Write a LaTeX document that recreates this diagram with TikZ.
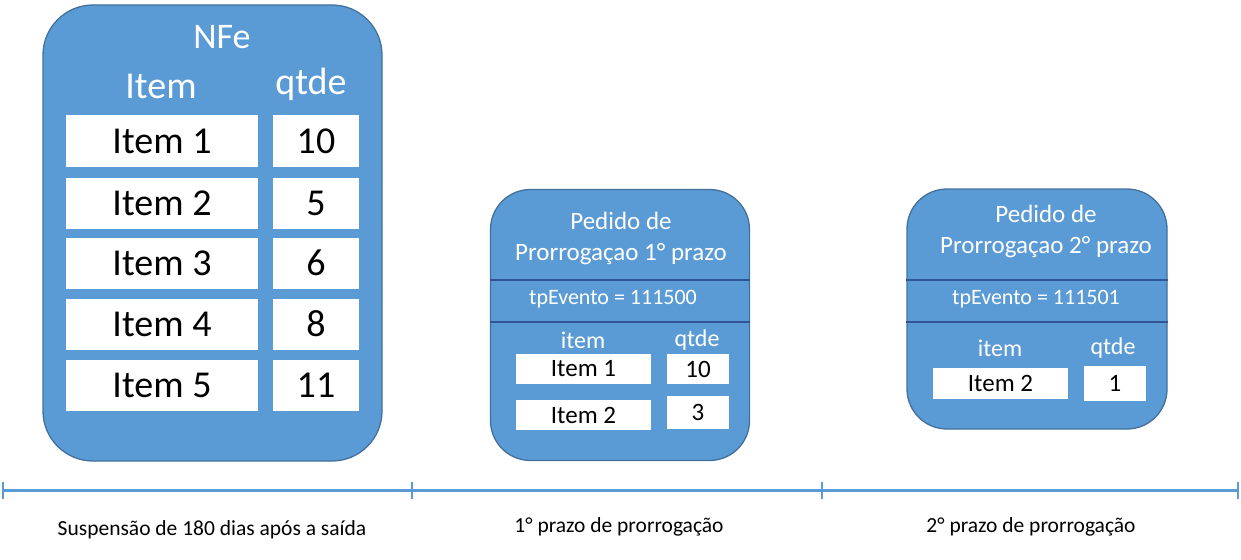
\documentclass[tikz,border=0pt]{standalone}
\usepackage{fontspec}
\setmainfont{Carlito}
\usetikzlibrary{positioning}
\definecolor{boxblue}{HTML}{5B9BD5}
\definecolor{boxedge}{HTML}{41719C}
\definecolor{sepblue}{HTML}{2F5597}

\begin{document}
\begin{tikzpicture}[x=1pt,y=-1pt,
    bloco/.style={draw=boxedge,line width=1.3pt,fill=boxblue,rounded corners=#1,inner sep=0pt},
    celula/.style={fill=white,inner sep=0pt,text=black},
    titulo/.style={text=white,inner sep=0pt},
    sepline/.style={draw=sepblue,line width=2.4pt},
    eixo/.style={draw=boxblue,line width=3pt},
    legenda/.style={text=black,inner sep=0pt,font=\fontsize{21.5}{24}\selectfont}]
    \useasboundingbox (0,0) rectangle (1241,559);
    % NFe
    \node[bloco=50pt,minimum width=339pt,minimum height=456pt] (nfe) at (212.5,233) {};
    \node[titulo,font=\fontsize{36}{38}\selectfont] (nfetit) at (222,37) {NFe};
    \node[titulo,font=\fontsize{38}{40}\selectfont] (nfeitem) at (161,86) {Item};
    \node[titulo,font=\fontsize{38}{40}\selectfont] (nfeqtde) at (311,84) {qtde};
    \foreach \i/\y/\q in {1/141/10,2/203/5,3/263/6,4/324/8,5/385/11}{
        \node[celula,minimum width=192pt,minimum height=51pt,font=\fontsize{38}{40}\selectfont] (nitem\i) at (162,\y) {Item \i};
        \node[celula,minimum width=86pt,minimum height=51pt,font=\fontsize{38}{40}\selectfont] (nqtde\i) at (316,\y) {\q};
    }
    % 1o pedido
    \node[bloco=40pt,minimum width=259pt,minimum height=271pt] (ped1) at (620,325) {};
    \node[titulo,font=\fontsize{25}{31}\selectfont,align=center] (ped1tit) at (621,238) {Pedido de\\Prorrogaçao 1° prazo};
    \draw[sepline] (ped1.west |- 0,280) -- (ped1.east |- 0,280);
    \draw[sepline] (ped1.west |- 0,322) -- (ped1.east |- 0,322);
    \node[titulo,font=\fontsize{22}{24}\selectfont] (ped1ev) at (613,299) {tpEvento = 111500};
    \node[titulo,font=\fontsize{24}{26}\selectfont] (ped1item) at (583,340) {item};
    \node[titulo,font=\fontsize{24}{26}\selectfont] (ped1qtde) at (697,340) {qtde};
    \node[celula,minimum width=135pt,minimum height=30pt,font=\fontsize{25}{27}\selectfont] (p1item1) at (583.5,369) {Item 1};
    \node[celula,minimum width=62pt,minimum height=30pt,font=\fontsize{25}{27}\selectfont] (p1qtde1) at (698,369) {10};
    \node[celula,minimum width=135pt,minimum height=30pt,font=\fontsize{25}{27}\selectfont] (p1item2) at (583.5,415) {Item 2};
    \node[celula,minimum width=62pt,minimum height=33pt,font=\fontsize{25}{27}\selectfont] (p1qtde2) at (698,412.5) {3};
    % 2o pedido
    \node[bloco=40pt,minimum width=260pt,minimum height=240pt] (ped2) at (1037,309) {};
    \node[titulo,font=\fontsize{25}{31}\selectfont,align=center] (ped2tit) at (1046,231) {Pedido de\\Prorrogaçao 2° prazo};
    \draw[sepline] (ped2.west |- 0,280) -- (ped2.east |- 0,280);
    \draw[sepline] (ped2.west |- 0,322) -- (ped2.east |- 0,322);
    \node[titulo,font=\fontsize{22}{24}\selectfont] (ped2ev) at (1036,299) {tpEvento = 111501};
    \node[titulo,font=\fontsize{24}{26}\selectfont] (ped2item) at (1000,348) {item};
    \node[titulo,font=\fontsize{24}{26}\selectfont] (ped2qtde) at (1113,348) {qtde};
    \node[celula,minimum width=135pt,minimum height=31pt,font=\fontsize{25}{27}\selectfont] (p2item2) at (1000.5,383.5) {Item 2};
    \node[celula,minimum width=62pt,minimum height=35pt,font=\fontsize{25}{27}\selectfont] (p2qtde2) at (1115,383.5) {1};
    % linha do tempo
    \coordinate (t0) at (3,490);
    \coordinate (t1) at (412,490);
    \coordinate (t2) at (822,490);
    \coordinate (t3) at (1238,490);
    \draw[eixo] (t0) -- (t3);
    \foreach \t in {t0,t1,t2,t3}
        \draw[eixo,line width=2.4pt] ([yshift=8pt]\t) -- ([yshift=-9pt]\t);
    \node[legenda] (leg0) at (212,530) {Suspensão de 180 dias após a saída};
    \node[legenda] (leg1) at (619,527) {1° prazo de prorrogação};
    \node[legenda] (leg2) at (1031,527) {2° prazo de prorrogação};
\end{tikzpicture}
\end{document}
